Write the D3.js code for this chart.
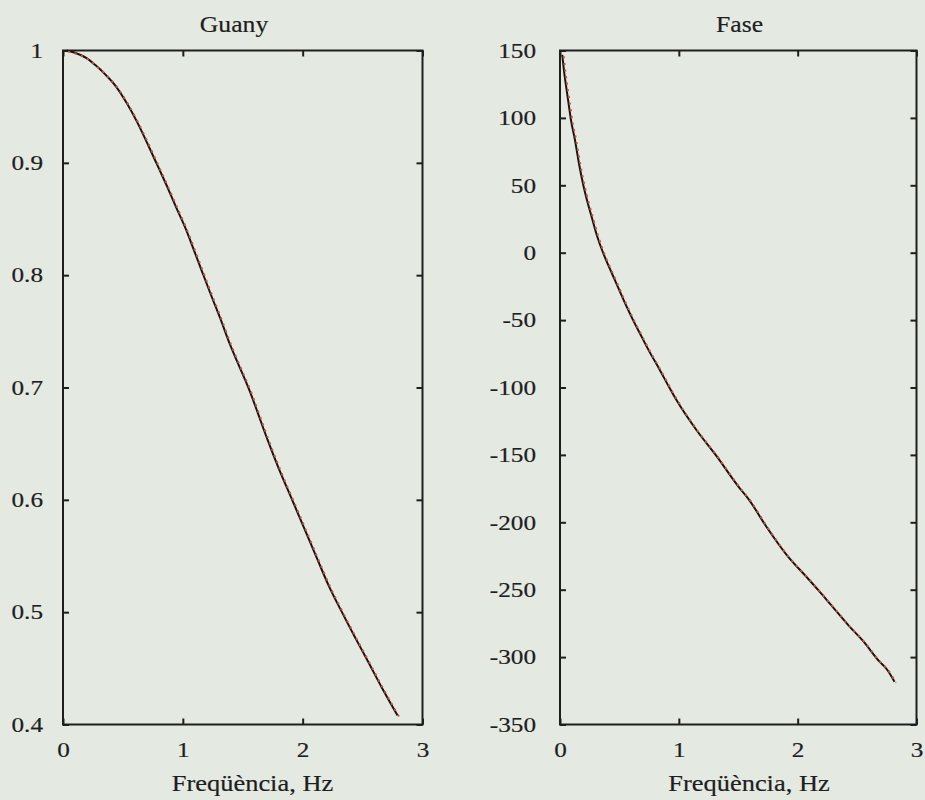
<!DOCTYPE html>
<html><head><meta charset="utf-8">
<script src="https://cdn.jsdelivr.net/npm/d3@7/dist/d3.min.js"></script>
<style>body{margin:0;background:#e4eae2;} svg{display:block;}</style>
</head><body>
<svg id="c" width="925" height="800"></svg>
<script>
// ---- data ----
const titles = ["Guany", "Fase"];
const xLabel = "Freqüència, Hz";
const xTicks = [0, 1, 2, 3];
const gainTicks = [0.4, 0.5, 0.6, 0.7, 0.8, 0.9, 1];
const gainTickLabels = ["0.4", "0.5", "0.6", "0.7", "0.8", "0.9", "1"];
const phaseTicks = [-350, -300, -250, -200, -150, -100, -50, 0, 50, 100, 150];
const phaseTickLabels = ["-350", "-300", "-250", "-200", "-150", "-100", "-50", "0", "50", "100", "150"];

const freqGain = [0.03, 0.10, 0.20, 0.27, 0.35, 0.435, 0.533, 0.62, 0.714, 0.80, 0.881, 0.95, 1.021, 1.09, 1.161, 1.24, 1.314, 1.38, 1.454, 1.565, 1.63, 1.705, 1.80, 1.90, 2.00, 2.123, 2.22, 2.318, 2.43, 2.541, 2.66, 2.792];
const gainMeasured = [1.000, 0.998, 0.993, 0.987, 0.979, 0.969, 0.953, 0.936, 0.915, 0.895, 0.876, 0.859, 0.842, 0.823, 0.803, 0.781, 0.761, 0.742, 0.723, 0.695, 0.676, 0.654, 0.628, 0.603, 0.578, 0.547, 0.523, 0.502, 0.479, 0.457, 0.433, 0.408];
const gainModel = [1.000, 0.998, 0.993, 0.987, 0.979, 0.969, 0.953, 0.936, 0.915, 0.895, 0.876, 0.859, 0.842, 0.823, 0.803, 0.781, 0.761, 0.742, 0.723, 0.695, 0.676, 0.654, 0.628, 0.603, 0.578, 0.547, 0.523, 0.502, 0.479, 0.457, 0.433, 0.408];

const freqPhase = [0.019, 0.035, 0.056, 0.075, 0.090, 0.126, 0.16, 0.196, 0.23, 0.266, 0.31, 0.364, 0.41, 0.462, 0.55, 0.615, 0.672, 0.75, 0.84, 0.92, 0.98, 1.148, 1.31, 1.513, 1.582, 1.737, 1.919, 2.073, 2.17, 2.269, 2.437, 2.55, 2.689, 2.75, 2.815];
const phaseMeasured = [146.7, 134, 120.7, 109, 99.7, 83.6, 66, 50.2, 38, 26.7, 13, -0.4, -10, -20.3, -38, -50, -59.8, -73, -87, -100, -109.3, -131.5, -150, -174.8, -182.2, -203.3, -225.5, -240.4, -250, -260.1, -277.4, -288, -303.4, -309, -318.2];
const phaseModel = [146.7, 134, 120.7, 109, 99.7, 83.6, 66, 50.2, 38, 26.7, 13, -0.4, -10, -20.3, -38, -50, -59.8, -73, -87, -100, -109.3, -131.5, -150, -174.8, -182.2, -203.3, -225.5, -240.4, -250, -260.1, -277.4, -288, -303.4, -309, -318.2];

// ---- drawing ----
const svg = d3.select("#c");
svg.append("rect").attr("width", 925).attr("height", 800).attr("fill", "#e4eae2");

const FONT = "'Liberation Serif', 'Times New Roman', serif";
const INK = "#1e1e1e";
const TICK_SX = 1.26, TITLE_SX = 1.07, LABEL_SX = 1.15;

function inkText(sel) {
  return sel.attr("font-family", FONT).attr("fill", INK)
    .attr("stroke", INK).attr("stroke-width", 0.2);
}

function panel(opt) {
  const x = d3.scaleLinear().domain([0, 3]).range([opt.left, opt.right]);
  const y = d3.scaleLinear().domain(opt.yDomain).range([724.5, 50.5]);
  const g = svg.append("g");

  // frame
  g.append("rect").attr("x", opt.left).attr("y", 50.5)
    .attr("width", opt.right - opt.left).attr("height", 674)
    .attr("fill", "none").attr("stroke", INK).attr("stroke-width", 2);

  const styleAxis = sel => {
    sel.select(".domain").remove();
    sel.selectAll(".tick line").attr("stroke", INK).attr("stroke-width", 2);
  };
  // inward ticks on all sides
  const bottom = g.append("g").attr("transform", `translate(0,724.5)`)
    .call(d3.axisBottom(x).tickValues(xTicks).tickSize(-6).tickFormat(d3.format("d")));
  styleAxis(bottom);
  bottom.selectAll(".tick text")
    .attr("y", null).attr("dy", null)
    .attr("transform", `translate(0,32.5) scale(${TICK_SX},1)`)
    .attr("font-size", 20).call(inkText);

  const top = g.append("g").attr("transform", `translate(0,50.5)`)
    .call(d3.axisTop(x).tickValues(xTicks).tickSize(-6).tickFormat(""));
  styleAxis(top);

  const left = g.append("g").attr("transform", `translate(${opt.left},0)`)
    .call(d3.axisLeft(y).tickValues(opt.yTicks).tickSize(-6)
      .tickFormat((d, i) => opt.yLabels[i]));
  styleAxis(left);
  left.selectAll(".tick text")
    .attr("x", null).attr("dy", "0.34em")
    .attr("transform", `translate(${opt.labelOffset},0) scale(${TICK_SX},1)`)
    .attr("font-size", 20).call(inkText);

  const right = g.append("g").attr("transform", `translate(${opt.right},0)`)
    .call(d3.axisRight(y).tickValues(opt.yTicks).tickSize(-6).tickFormat(""));
  styleAxis(right);

  // curves
  const pts = opt.freq.map((f, i) => [f, opt.measured[i]]);
  const ptsModel = opt.freq.map((f, i) => [f, opt.model[i]]);
  const line = d3.line().x(d => x(d[0])).y(d => y(d[1])).curve(d3.curveMonotoneX);
  g.append("path").attr("d", line(pts)).attr("fill", "none")
    .attr("stroke", "#151515").attr("stroke-width", 2).attr("stroke-linejoin", "round");
  g.append("path").attr("d", line(ptsModel)).attr("fill", "none")
    .attr("transform", "translate(1.4,1.1)")
    .attr("stroke", "#e04a38").attr("stroke-width", 2).attr("stroke-dasharray", "2.2,4.5")
    .attr("stroke-linecap", "butt");

  // title and x label
  g.append("text").attr("transform", `translate(${opt.titleX},32) scale(${TITLE_SX},1)`)
    .attr("text-anchor", "middle").attr("font-size", 24).call(inkText).text(opt.title);
  g.append("text").attr("transform", `translate(${opt.xLabelX},791) scale(${LABEL_SX},1)`)
    .attr("text-anchor", "middle").attr("font-size", 23).call(inkText).text(xLabel);
}

panel({ left: 63, right: 422.5, yDomain: [0.4, 1], yTicks: gainTicks, yLabels: gainTickLabels,
  labelOffset: -20, freq: freqGain, measured: gainMeasured, model: gainModel,
  title: titles[0], titleX: 234, xLabelX: 252.5 });
panel({ left: 560, right: 916.5, yDomain: [-350, 150], yTicks: phaseTicks, yLabels: phaseTickLabels,
  labelOffset: -24, freq: freqPhase, measured: phaseMeasured, model: phaseModel,
  title: titles[1], titleX: 739.5, xLabelX: 749 });
</script>
</body></html>
